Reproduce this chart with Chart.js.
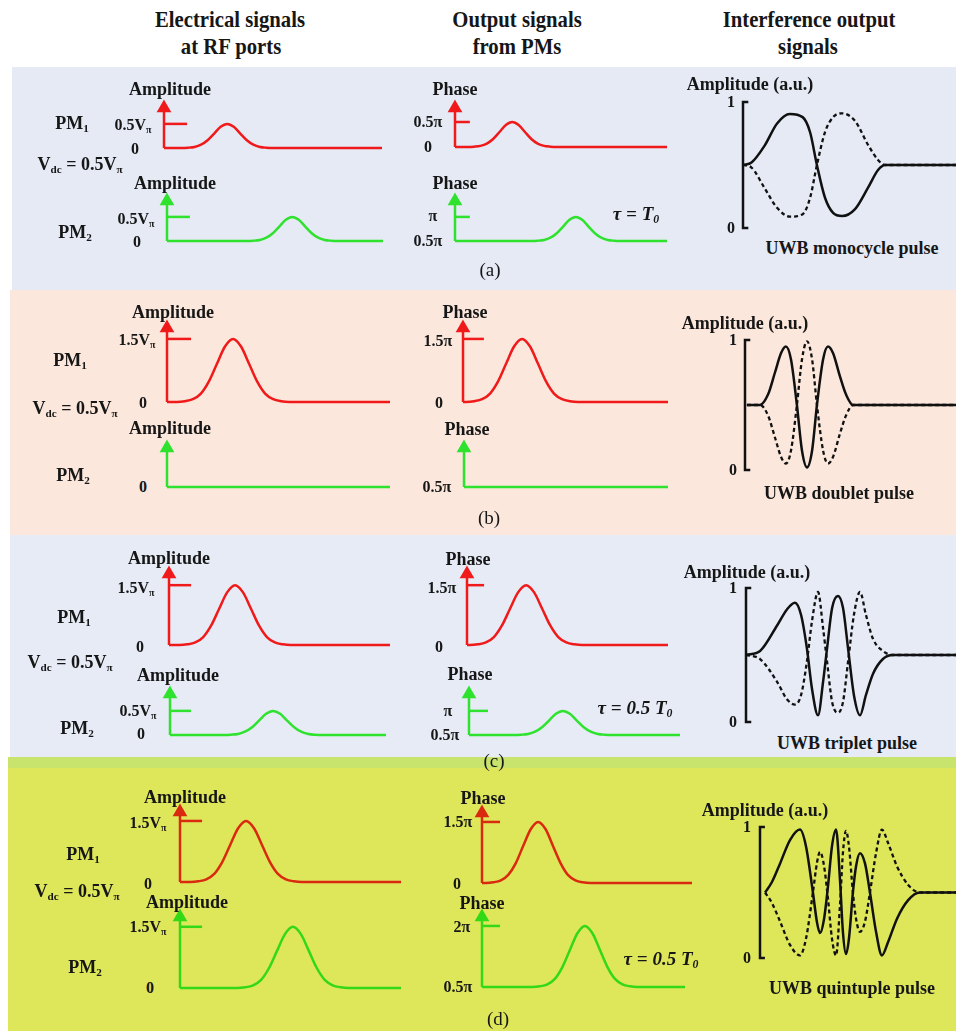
<!DOCTYPE html>
<html>
<head>
<meta charset="utf-8">
<script src="https://cdn.jsdelivr.net/npm/chart.js@4.4.0/dist/chart.umd.min.js"></script>
<style>
  body { margin: 0; background: #fff; }
  #root { position: relative; width: 956px; height: 1031px; overflow: hidden; background: #fff; }
  .bg { position: absolute; }
  canvas { position: absolute; }
  .lbl {
    position: absolute; transform: translate(-50%, -50%); white-space: nowrap;
    font-family: "Liberation Serif", "Times New Roman", serif; font-weight: bold;
    font-size: 18px; line-height: 1; color: #161616;
  }
  .lbl sub { font-size: 0.62em; vertical-align: -0.28em; line-height: 0; }
  .hdr { font-size: 23px; transform: translate(-50%, -50%) scaleX(0.9); }
  .tick { font-size: 16px; }
  .cap { font-weight: normal; font-size: 19px; }
  .tau { font-style: italic; font-size: 19px; }
</style>
</head>
<body>
<div id="root"></div>
<script>
// ---- data: time axis is 0..100 % of each trace, values in Vpi / pi / a.u. ----
const smallPulse = [0, 0, 0.006, 0.022, 0.068, 0.16, 0.30, 0.44, 0.50, 0.44, 0.30, 0.16, 0.068, 0.022, 0.006, 0, 0];
const smallPulseHi = [0.5, 0.5, 0.506, 0.522, 0.568, 0.66, 0.80, 0.94, 1.0, 0.94, 0.80, 0.66, 0.568, 0.522, 0.506, 0.5, 0.5];
const bigPulse = [0, 0, 0.017, 0.066, 0.2, 0.49, 0.91, 1.32, 1.5, 1.32, 0.91, 0.49, 0.2, 0.066, 0.017, 0, 0];
const bigPulseHi = [0.5, 0.5, 0.517, 0.566, 0.7, 0.99, 1.41, 1.82, 2.0, 1.82, 1.41, 0.99, 0.7, 0.566, 0.517, 0.5, 0.5];
const flatT = [0, 100];
const flatZero = [0, 0];
const flatHalf = [0.5, 0.5];

const tA1 = [0, 8, 11, 14, 17, 20, 23, 26, 29, 32, 35, 38, 41, 44, 47, 50, 100];
const tA2 = [0, 37, 40, 43, 46, 49, 52, 55, 58, 61, 64, 67, 70, 73, 76, 79, 100];
const tA3 = [0, 6, 9, 12, 15, 18, 21, 24, 27, 30, 33, 36, 39, 42, 45, 48, 100];
const tA4 = [0, 36, 39, 42, 45, 48, 51, 54, 57, 60, 63, 66, 69, 72, 75, 78, 100];
const tB1 = [0, 4.4, 8, 11.6, 15.2, 18.8, 22.4, 26, 29.6, 33.2, 36.8, 40.4, 44, 47.6, 51.2, 54.8, 100];
const tB3 = [0, 1.5, 5.4, 9.3, 13.2, 17.1, 21, 24.9, 28.8, 32.7, 36.6, 40.5, 44.4, 48.3, 52.2, 56.1, 100];
const tC1 = [0, 4.7, 8.3, 11.9, 15.5, 19.1, 22.7, 26.3, 29.9, 33.5, 37.1, 40.7, 44.3, 47.9, 51.5, 55.1, 100];
const tC2 = [0, 25, 28.2, 31.5, 34.7, 38, 41.2, 44.5, 47.7, 51, 54.2, 57.5, 60.7, 64, 67.2, 70.5, 100];
const tC3 = [0, 1.4, 5.4, 9.4, 13.4, 17.4, 21.4, 25.4, 29.4, 33.4, 37.4, 41.4, 45.4, 49.4, 53.4, 57.4, 100];
const tC4 = [0, 21.4, 24.7, 28, 31.3, 34.6, 37.9, 41.2, 44.5, 47.8, 51.1, 54.4, 57.7, 61, 64.3, 67.6, 100];
const tD1 = [0, 4.7, 8.3, 11.9, 15.5, 19.1, 22.7, 26.3, 29.9, 33.5, 37.1, 40.7, 44.3, 47.9, 51.5, 55.1, 100];
const tD2 = [0, 25.9, 29.5, 33.1, 36.7, 40.3, 43.9, 47.5, 51.1, 54.7, 58.3, 61.9, 65.5, 69.1, 72.7, 76.3, 100];
const tD3 = [0, 1.9, 5.4, 9, 12.5, 16.1, 19.6, 23.2, 26.7, 30.3, 33.8, 37.4, 40.9, 44.5, 48, 51.6, 100];
const tD4 = [0, 24.8, 28.5, 32.2, 35.9, 39.6, 43.3, 47, 50.7, 54.4, 58.1, 61.8, 65.5, 69.2, 72.9, 76.6, 100];

// interference outputs (solid / dashed arms)
const iaT = [0, 4, 10, 16, 22, 28, 31.5, 34.7, 38.5, 42.3, 46.5, 52.6, 58.7, 63.4, 66.7, 100];
const iaSolid = [0.5, 0.52, 0.65, 0.83, 0.905, 0.88, 0.76, 0.5, 0.24, 0.12, 0.095, 0.15, 0.32, 0.46, 0.5, 0.5];
const iaDash = [0.5, 0.48, 0.32, 0.16, 0.09, 0.11, 0.24, 0.5, 0.76, 0.88, 0.91, 0.85, 0.66, 0.54, 0.5, 0.5];

const ibT = [0.9, 7.1, 10.9, 14.2, 17.1, 19.4, 21.8, 24.6, 27.0, 29.4, 31.8, 34.1, 37.0, 39.3, 41.7, 45.0, 47.9, 51.2, 100];
const ibSolid = [0.5, 0.5, 0.58, 0.75, 0.9, 0.95, 0.85, 0.5, 0.15, 0.02, 0.15, 0.5, 0.85, 0.95, 0.9, 0.72, 0.58, 0.5, 0.5];
const ibDash = [0.5, 0.5, 0.42, 0.25, 0.1, 0.05, 0.15, 0.5, 0.85, 0.99, 0.85, 0.5, 0.15, 0.05, 0.1, 0.28, 0.42, 0.5, 0.5];

const icT = [0, 6.7, 14.8, 19.5, 23.3, 26.2, 29.0, 31.4, 34.3, 36.7, 38.6, 41.0, 43.8, 46.2, 48.6, 51.4, 54.3, 57.1, 60.5, 65.2, 69.9, 100];
const icSolid = [0.5, 0.53, 0.72, 0.84, 0.89, 0.8, 0.55, 0.25, 0.05, 0.3, 0.55, 0.85, 0.94, 0.85, 0.55, 0.2, 0.05, 0.2, 0.36, 0.47, 0.5, 0.5];
const icDash = [0.5, 0.47, 0.3, 0.17, 0.13, 0.2, 0.45, 0.75, 0.97, 0.7, 0.45, 0.15, 0.07, 0.15, 0.45, 0.8, 0.97, 0.8, 0.62, 0.53, 0.5, 0.5];

const idT = [2.6, 6.1, 10.2, 15.3, 20.4, 23.5, 27.0, 29.1, 30.6, 32.7, 34.7, 36.7, 38.8, 40.8, 42.3, 43.9, 45.4, 47.4, 49.0, 51.0, 53.6, 56.1, 59.2, 62.2, 65.3, 69.9, 75.5, 81.6, 100];
const idSolid = [0.5, 0.58, 0.72, 0.9, 0.98, 0.85, 0.5, 0.27, 0.19, 0.3, 0.55, 0.85, 0.98, 0.6, 0.2, 0.03, 0.15, 0.5, 0.7, 0.8, 0.72, 0.5, 0.2, 0.02, 0.12, 0.3, 0.44, 0.5, 0.5];
const idDash = [0.5, 0.42, 0.28, 0.1, 0.02, 0.15, 0.5, 0.73, 0.81, 0.7, 0.45, 0.15, 0.02, 0.4, 0.8, 0.97, 0.85, 0.5, 0.3, 0.2, 0.28, 0.5, 0.8, 0.98, 0.88, 0.7, 0.56, 0.5, 0.5];

// ---- layout ----
const root = document.getElementById('root');
const PAD = 10;
const RED = '#f01a1a', GREEN = '#2ee22e';
const RED_D = '#d92a10', GREEN_D = '#33d914';

const panels = [
  { l: 12, t: 67, r: 956, b: 290, color: '#e5eaf5' },
  { l: 10, t: 290, r: 956, b: 535, color: '#fbe7db' },
  { l: 10, t: 535, r: 956, b: 757, color: '#e6ebf6' },
  { l: 8, t: 757, r: 956, b: 768, color: '#c9e46c' },
  { l: 8, t: 768, r: 956, b: 1031, color: '#dee65a' },
];
panels.forEach(p => {
  const d = document.createElement('div');
  d.className = 'bg';
  Object.assign(d.style, { left: p.l + 'px', top: p.t + 'px', width: (p.r - p.l) + 'px', height: (p.b - p.t) + 'px', background: p.color });
  root.appendChild(d);
});

const pts = (xs, ys) => xs.map((x, i) => ({ x, y: ys[i] }));

function placeCanvas(box) {
  const c = document.createElement('canvas');
  c.width = box.r - box.l + 2 * PAD;
  c.height = box.b - box.t + 2 * PAD;
  c.style.left = (box.l - PAD) + 'px';
  c.style.top = (box.t - PAD) + 'px';
  root.appendChild(c);
  return c;
}

function baseOptions(yMin, yMax) {
  return {
    responsive: false,
    animation: false,
    layout: { padding: PAD },
    plugins: { legend: { display: false }, tooltip: { enabled: false } },
    scales: {
      x: { type: 'linear', display: false, min: 0, max: 100 },
      y: { display: false, min: yMin, max: yMax },
    },
    elements: { point: { radius: 0 } },
  };
}

// electrical / phase trace with arrow axis and level tick
function signalChart(s) {
  const datasets = [
    { data: pts([0, 0], [s.yMin, s.yMax]), borderColor: s.color, borderWidth: 2.5, tension: 0,
      pointRadius: [0, 6], pointStyle: 'triangle', pointBackgroundColor: s.color, pointBorderColor: s.color, clip: false },
    { data: pts(s.trace, s.values), borderColor: s.color, borderWidth: 2.5,
      cubicInterpolationMode: 'monotone', clip: false },
  ];
  if (s.tickVal !== undefined) {
    datasets.push({ data: pts([0, s.tickEnd], [s.tickVal, s.tickVal]), borderColor: s.color, borderWidth: 2.5, tension: 0, clip: false });
  }
  new Chart(placeCanvas(s.box), { type: 'line', data: { datasets }, options: baseOptions(s.yMin, s.yMax) });
}

// interference output with bracket axis
function outputChart(s) {
  const datasets = [
    { data: pts([2.5, 0, 0, 2.5], [1, 1, 0, 0]), borderColor: '#111', borderWidth: 2.5, tension: 0, clip: false },
    { data: pts(s.trace, s.dash), borderColor: '#111', borderWidth: 2.3, borderDash: [4, 3],
      cubicInterpolationMode: 'monotone', clip: false },
    { data: pts(s.trace, s.solid), borderColor: '#111', borderWidth: 2.5,
      cubicInterpolationMode: 'monotone', clip: false },
  ];
  new Chart(placeCanvas(s.box), { type: 'line', data: { datasets }, options: baseOptions(0, 1) });
}

const signals = [
  { box: { l: 164, r: 382, t: 108, b: 148 }, color: RED, yMin: 0, yMax: 0.83, tickVal: 0.5, tickEnd: 10.6, trace: tA1, values: smallPulse },
  { box: { l: 167, r: 383, t: 201, b: 241 }, color: GREEN, yMin: 0, yMax: 0.83, tickVal: 0.5, tickEnd: 10.6, trace: tA2, values: smallPulse },
  { box: { l: 455, r: 667, t: 108, b: 147 }, color: RED, yMin: 0, yMax: 0.78, tickVal: 0.5, tickEnd: 7, trace: tA3, values: smallPulse },
  { box: { l: 455, r: 667, t: 201, b: 241 }, color: GREEN, yMin: 0.5, yMax: 1.33, tickVal: 1.0, tickEnd: 7, trace: tA4, values: smallPulseHi },

  { box: { l: 167, r: 390, t: 328, b: 402 }, color: RED, yMin: 0, yMax: 1.76, tickVal: 1.5, tickEnd: 10.8, trace: tB1, values: bigPulse },
  { box: { l: 167, r: 390, t: 448, b: 487 }, color: GREEN, yMin: 0, yMax: 0.93, trace: flatT, values: flatZero },
  { box: { l: 463, r: 668, t: 328, b: 402 }, color: RED, yMin: 0, yMax: 1.76, tickVal: 1.5, tickEnd: 10.2, trace: tB3, values: bigPulse },
  { box: { l: 464, r: 668, t: 448, b: 487 }, color: GREEN, yMin: 0.5, yMax: 1.43, trace: flatT, values: flatHalf },

  { box: { l: 169, r: 390, t: 574, b: 645 }, color: RED, yMin: 0, yMax: 1.78, tickVal: 1.5, tickEnd: 10, trace: tC1, values: bigPulse },
  { box: { l: 170, r: 386, t: 694, b: 735 }, color: GREEN, yMin: 0, yMax: 0.85, tickVal: 0.5, tickEnd: 9.7, trace: tC2, values: smallPulse },
  { box: { l: 467, r: 668, t: 574, b: 645 }, color: RED, yMin: 0, yMax: 1.78, tickVal: 1.5, tickEnd: 8.5, trace: tC3, values: bigPulse },
  { box: { l: 469, r: 680, t: 694, b: 735 }, color: GREEN, yMin: 0.5, yMax: 1.35, tickVal: 1.0, tickEnd: 9, trace: tC4, values: smallPulseHi },

  { box: { l: 180, r: 401, t: 812, b: 882 }, color: RED_D, yMin: 0, yMax: 1.72, tickVal: 1.5, tickEnd: 10, trace: tD1, values: bigPulse },
  { box: { l: 180, r: 401, t: 917, b: 988 }, color: GREEN_D, yMin: 0, yMax: 1.74, tickVal: 1.5, tickEnd: 10, trace: tD2, values: bigPulse },
  { box: { l: 482, r: 692, t: 813, b: 883 }, color: RED_D, yMin: 0, yMax: 1.72, tickVal: 1.5, tickEnd: 8.6, trace: tD3, values: bigPulse },
  { box: { l: 482, r: 685, t: 917, b: 987 }, color: GREEN_D, yMin: 0.5, yMax: 2.22, tickVal: 2.0, tickEnd: 8.9, trace: tD4, values: bigPulseHi },
];
signals.forEach(signalChart);

const outputs = [
  { box: { l: 743, r: 956, t: 102, b: 228 }, trace: iaT, solid: iaSolid, dash: iaDash },
  { box: { l: 745, r: 956, t: 340, b: 470 }, trace: ibT, solid: ibSolid, dash: ibDash },
  { box: { l: 746, r: 956, t: 588, b: 722 }, trace: icT, solid: icSolid, dash: icDash },
  { box: { l: 760, r: 956, t: 827, b: 958 }, trace: idT, solid: idSolid, dash: idDash },
];
outputs.forEach(outputChart);

// ---- text ----
const VPI = 'V<sub>π</sub>';
const VDC = 'V<sub>dc</sub> = 0.5' + VPI;
const PM1 = 'PM<sub>1</sub>', PM2 = 'PM<sub>2</sub>';
const texts = [
  ['Electrical signals', 230, 19, 'hdr'], ['at RF ports', 231, 46, 'hdr'],
  ['Output signals', 517, 19, 'hdr'], ['from PMs', 517, 46, 'hdr'],
  ['Interference output', 809, 19, 'hdr'], ['signals', 808, 46, 'hdr'],

  // (a)
  ['Amplitude', 170, 89], ['0.5' + VPI, 133, 125, 'tick'], ['0', 135, 149, 'tick'],
  [PM1, 72, 123], [VDC, 80, 164],
  ['Amplitude', 175, 183], ['0.5' + VPI, 136, 219, 'tick'], ['0', 137, 242, 'tick'], [PM2, 75, 232],
  ['Phase', 455, 89], ['0.5π', 428, 122, 'tick'], ['0', 428, 147, 'tick'],
  ['Phase', 455, 183], ['π', 433, 216, 'tick'], ['0.5π', 428, 241, 'tick'],
  ['τ = T<sub>0</sub>', 636, 213, 'tau'], ['(a)', 490, 269, 'cap'],
  ['Amplitude (a.u.)', 750, 84], ['1', 731, 102, 'tick'], ['0', 731, 228, 'tick'],
  ['UWB monocycle pulse', 852, 248],

  // (b)
  ['Amplitude', 173, 312], ['1.5' + VPI, 137, 340, 'tick'], ['0', 143, 403, 'tick'],
  [PM1, 70, 360], [VDC, 75, 408],
  ['Amplitude', 170, 428], ['0', 143, 487, 'tick'], [PM2, 73, 475],
  ['Phase', 465, 312], ['1.5π', 438, 341, 'tick'], ['0', 439, 403, 'tick'],
  ['Phase', 467, 429], ['0.5π', 437, 487, 'tick'], ['(b)', 489, 517, 'cap'],
  ['Amplitude (a.u.)', 745, 323], ['1', 733, 340, 'tick'], ['0', 733, 470, 'tick'],
  ['UWB doublet pulse', 839, 493],

  // (c)
  ['Amplitude', 169, 558], ['1.5' + VPI, 136, 588, 'tick'], ['0', 140, 647, 'tick'],
  [PM1, 74, 617], [VDC, 70, 662],
  ['Amplitude', 178, 675], ['0.5' + VPI, 138, 711, 'tick'], ['0', 141, 734, 'tick'], [PM2, 77, 728],
  ['Phase', 468, 559], ['1.5π', 442, 588, 'tick'], ['0', 439, 647, 'tick'],
  ['Phase', 470, 674], ['π', 448, 711, 'tick'], ['0.5π', 445, 735, 'tick'],
  ['τ = 0.5 T<sub>0</sub>', 635, 707, 'tau'], ['(c)', 494, 760, 'cap'],
  ['Amplitude (a.u.)', 747, 572], ['1', 733, 588, 'tick'], ['0', 733, 722, 'tick'],
  ['UWB triplet pulse', 847, 743],

  // (d)
  ['Amplitude', 185, 797], ['1.5' + VPI, 148, 823, 'tick'], ['0', 148, 884, 'tick'],
  [PM1, 83, 854], [VDC, 77, 891],
  ['Amplitude', 187, 902], ['1.5' + VPI, 148, 927, 'tick'], ['0', 150, 988, 'tick'], [PM2, 85, 967],
  ['Phase', 483, 798], ['1.5π', 458, 822, 'tick'], ['0', 457, 884, 'tick'],
  ['Phase', 482, 903], ['2π', 462, 927, 'tick'], ['0.5π', 458, 987, 'tick'],
  ['τ = 0.5 T<sub>0</sub>', 661, 958, 'tau'], ['(d)', 498, 1018, 'cap'],
  ['Amplitude (a.u.)', 765, 810], ['1', 747, 827, 'tick'], ['0', 747, 958, 'tick'],
  ['UWB quintuple pulse', 852, 988],
];
texts.forEach(([html, x, y, cls]) => {
  const d = document.createElement('div');
  d.className = 'lbl' + (cls ? ' ' + cls : '');
  d.innerHTML = html;
  d.style.left = x + 'px';
  d.style.top = y + 'px';
  root.appendChild(d);
});
</script>
</body>
</html>
